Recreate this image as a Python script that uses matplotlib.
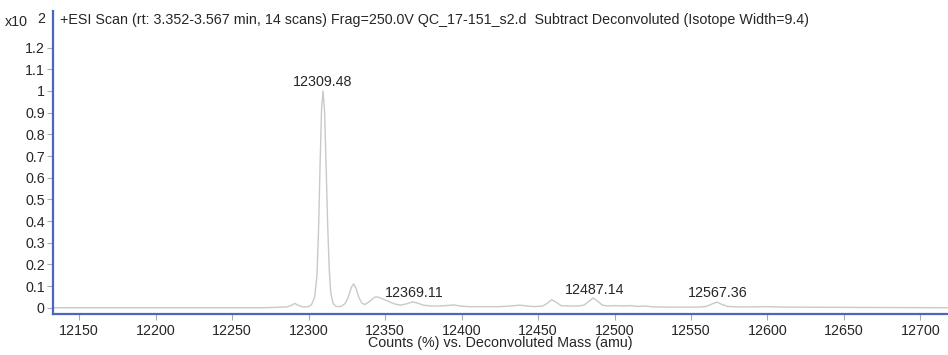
import matplotlib
matplotlib.use("Agg")
import matplotlib.pyplot as plt
import numpy as np
from matplotlib.ticker import FuncFormatter

# deconvoluted spectrum (mass in amu, counts x10^2)
mass = [12133, 12270, 12280, 12286, 12289, 12291, 12293, 12296, 12300, 12302,
        12304, 12305.5, 12306.5, 12307.5, 12308.5, 12309.5, 12310.5, 12311.5,
        12312.5, 12313.5, 12314.5, 12316, 12318, 12321, 12324, 12326, 12328,
        12329.5, 12331, 12333, 12335, 12337, 12340, 12343, 12345, 12348, 12352,
        12356, 12360, 12364, 12368, 12371, 12375, 12380, 12386, 12390, 12395,
        12399, 12405, 12415, 12425, 12432, 12438, 12443, 12448, 12453, 12456,
        12459, 12462, 12465, 12470, 12476, 12480, 12483, 12486, 12489, 12492,
        12496, 12500, 12505, 12510, 12515, 12520, 12525, 12535, 12545, 12555,
        12560, 12564, 12567, 12570, 12574, 12580, 12590, 12600, 12610, 12640,
        12680, 12718]
counts = [0.0, 0.0, 0.002, 0.004, 0.012, 0.02, 0.012, 0.004, 0.005, 0.015,
          0.05, 0.15, 0.35, 0.65, 0.92, 1.0, 0.9, 0.65,
          0.38, 0.18, 0.07, 0.02, 0.006, 0.005, 0.02, 0.05, 0.095,
          0.11, 0.09, 0.045, 0.02, 0.015, 0.03, 0.048, 0.05, 0.042, 0.03,
          0.018, 0.012, 0.018, 0.027, 0.022, 0.012, 0.008, 0.008, 0.01, 0.013,
          0.008, 0.005, 0.005, 0.005, 0.008, 0.012, 0.008, 0.005, 0.008, 0.02,
          0.037, 0.025, 0.01, 0.008, 0.008, 0.012, 0.028, 0.045, 0.03, 0.012,
          0.008, 0.01, 0.008, 0.01, 0.006, 0.008, 0.004, 0.003, 0.003, 0.003,
          0.006, 0.018, 0.026, 0.016, 0.006, 0.004, 0.004, 0.005, 0.003, 0.002,
          0.001, 0.0]

peak_labels = [12309.48, 12369.11, 12487.14, 12567.36]

x_ticks = [12150, 12200, 12250, 12300, 12350, 12400, 12450, 12500, 12550,
           12600, 12650, 12700]
y_ticks = [0, 0.1, 0.2, 0.3, 0.4, 0.5, 0.6, 0.7, 0.8, 0.9, 1.0, 1.1, 1.2]

TITLE = ("+ESI Scan (rt: 3.352-3.567 min, 14 scans) Frag=250.0V QC_17-151_s2.d  "
         "Subtract Deconvoluted (Isotope Width=9.4)")

plt.rcParams["font.family"] = ["Liberation Sans", "DejaVu Sans"]
TXT = "#262626"
BLUE = "#4866c4"
FS = 10.3

fig = plt.figure(figsize=(9.48, 3.55), dpi=100)
ax = fig.add_axes([0.056, 0.116, 0.944, 0.853])

ax.plot(mass, counts, color="#c9c9c9", lw=1.0)

ax.set_xlim(12133, 12718)
ax.set_ylim(-0.028, 1.369)
ax.set_xticks(x_ticks)
ax.set_yticks(y_ticks)
ax.yaxis.set_major_formatter(FuncFormatter(lambda v, p: f"{v:g}"))

for s in ["top", "right"]:
    ax.spines[s].set_visible(False)
for s in ["left", "bottom"]:
    ax.spines[s].set_color(BLUE)
    ax.spines[s].set_linewidth(1.6)

ax.tick_params(axis="both", direction="out", length=4, width=0.8,
               color="#aaaaaa", labelcolor=TXT, labelsize=FS)
ax.tick_params(axis="x", pad=3)
ax.tick_params(axis="y", pad=2)

ax.set_xlabel("Counts (%) vs. Deconvoluted Mass (amu)", fontsize=FS,
              color=TXT, labelpad=-1)

for pm in peak_labels:
    h = np.interp(pm, mass, counts)
    ax.annotate(f"{pm:.2f}", xy=(pm, h), xytext=(0, 1.5),
                textcoords="offset points", ha="center", va="bottom",
                fontsize=FS, color=TXT)

fig.text(0.063, 0.944, TITLE, fontsize=FS, color=TXT, va="center", ha="left")
fig.text(0.005, 0.937, "x10", fontsize=FS, color=TXT, va="center", ha="left")
fig.text(0.039, 0.947, "2", fontsize=FS, color=TXT, va="center", ha="left")

fig.savefig("out.png", dpi=100)
